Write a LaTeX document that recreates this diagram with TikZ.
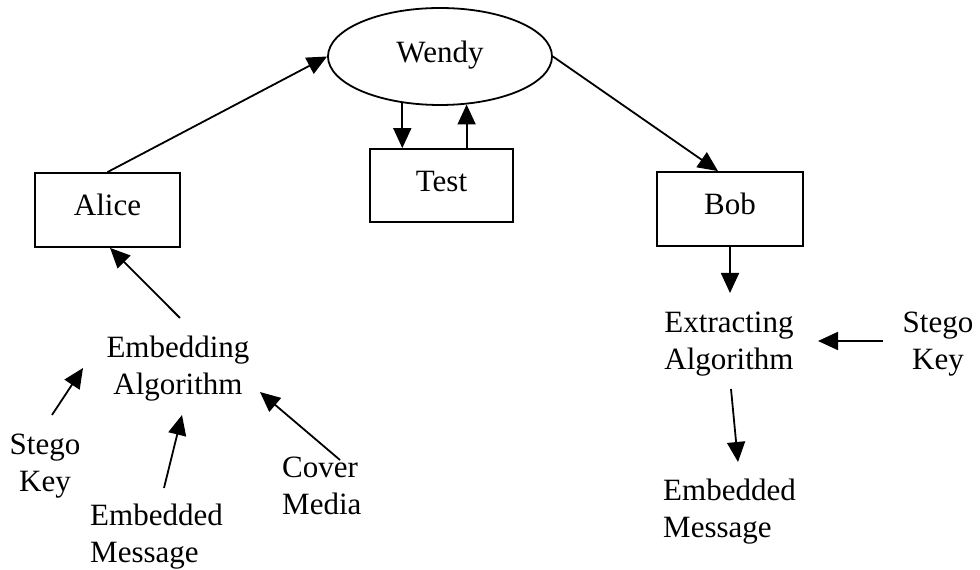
\documentclass[tikz,border=0pt]{standalone}
\usepackage{fontspec}
\setmainfont{Liberation Serif}
\usetikzlibrary{arrows.meta,shapes.geometric,calc}

\begin{document}
\begin{tikzpicture}[x=1pt,y=1pt,
  every node/.style={font=\fontsize{31}{37.5}\selectfont},
  boxnode/.style={draw,line width=1.8pt,rectangle,inner sep=0pt,
    text height=20pt,text depth=8pt},
  label/.style={inner sep=0pt,align=center},
  leftlabel/.style={inner sep=0pt,align=left},
  arr/.style={line width=1.8pt,-{Triangle[length=20pt,width=18pt]}}]
\useasboundingbox (0,0) rectangle (980,570);

% the three parties and the warden
\node[draw,ellipse,line width=1.8pt,minimum width=224pt,minimum height=97pt,
  inner sep=0pt,text height=20pt,text depth=8pt] (wendy) at (440,513.5) {Wendy};
\node[boxnode,minimum width=143pt,minimum height=73pt] (test) at (441.5,384.5) {Test};
\node[boxnode,minimum width=145pt,minimum height=74pt] (alice) at (107.5,360) {Alice};
\node[boxnode,minimum width=146pt,minimum height=74pt] (bob) at (730,361) {Bob};

% sender side (anchored on the baseline of the last line)
\node[label,anchor=base] (embed) at (178,175) {Embedding\\Algorithm};
\node[label,anchor=base] (stegoL) at (45,78) {Stego\\Key};
\node[leftlabel,anchor=base west] (msgL) at (90,7) {Embedded\\Message};
\node[leftlabel,anchor=base west] (cover) at (282,55) {Cover\\Media};

% receiver side
\node[label,anchor=base] (extract) at (729,200) {Extracting\\Algorithm};
\node[label,anchor=base] (stegoR) at (938,200) {Stego\\Key};
\node[leftlabel,anchor=base west] (msgR) at (663,32) {Embedded\\Message};

% channel
\draw[arr] (alice.north) -- (wendy.west);
\draw[arr] (wendy.east) -- ([xshift=-12pt]bob.north);
\draw[arr] (wendy.231) -- (test.north -| wendy.231);
\draw[arr] (test.north -| wendy.299) -- (wendy.299);

% embedding
\draw[arr] ($(embed.base)+(2,77)$) -- ([xshift=2.5pt]alice.south);
\draw[arr] ($(stegoL.base)+(7,77)$) -- ($(embed.base)+(-95,27)$);
\draw[arr] ($(msgL.base west)+(74,75)$) -- ($(embed.base)+(4,-20)$);
\draw[arr] ($(cover.base west)+(58,55)$) -- ($(embed.base)+(82,3)$);

% extracting
\draw[arr] (bob.south) -- ($(extract.base)+(1,77)$);
\draw[arr] ($(stegoR.base)+(-55,29)$) -- ($(extract.base)+(89,29)$);
\draw[arr] ($(extract.base)+(2,-19)$) -- ($(msgR.base west)+(75,76)$);
\end{tikzpicture}
\end{document}
